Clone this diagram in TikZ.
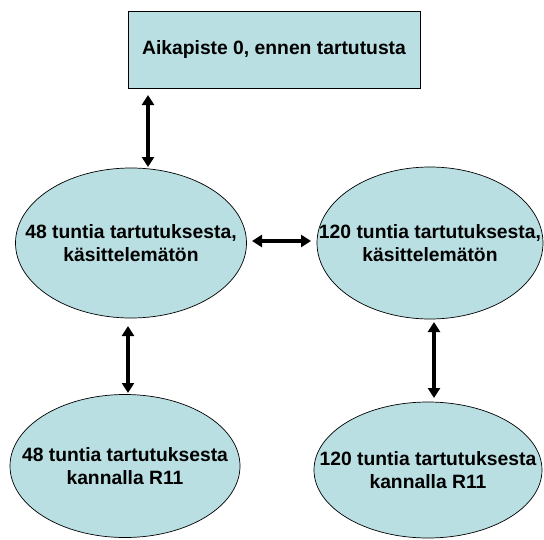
\documentclass[tikz,border=0pt]{standalone}
\usepackage{fontspec}
\setmainfont{Liberation Sans}
\usetikzlibrary{shapes.geometric,arrows.meta}
\definecolor{cellfill}{RGB}{185,223,226}
\tikzset{
  base/.style={draw=black, line width=0.7pt, fill=cellfill, font=\bfseries\fontsize{19.3}{23.5}\selectfont, align=center, inner sep=0pt},
  boxnode/.style={base, rectangle, minimum width=292pt, minimum height=77pt},
  ellnode/.style={base, ellipse, inner xsep=-60pt, inner ysep=-10pt},
  arr/.style={line width=3.5pt, {Triangle[length=10pt,width=12pt]}-{Triangle[length=10pt,width=12pt]}}
}
\begin{document}
\begin{tikzpicture}[x=1pt,y=-1pt]
\useasboundingbox (0,0) rectangle (544,539);
\node[boxnode] (top) at (274,49.5) {Aikapiste 0, ennen tartutusta};
\node[ellnode, minimum width=231pt, minimum height=150pt] (e1) at (131,243) {48 tuntia tartutuksesta,\\käsittelemätön};
\node[ellnode, minimum width=226pt, minimum height=152pt] (e2) at (430,243) {120 tuntia tartutuksesta,\\käsittelemätön};
\node[ellnode, minimum width=230pt, minimum height=143pt] (e3) at (125,466) {48 tuntia tartutuksesta\\kannalla R11};
\node[ellnode, minimum width=228pt, minimum height=136pt] (e4) at (428,470) {120 tuntia tartutuksesta\\kannalla R11};
\coordinate (a1s) at (148,95);
\coordinate (a1e) at (148,167);
\coordinate (a2s) at (252,241);
\coordinate (a2e) at (311,241);
\coordinate (a3s) at (128,326);
\coordinate (a3e) at (128,393);
\coordinate (a4s) at (434,322);
\coordinate (a4e) at (434,398);
\draw[arr] (a1s) -- (a1e);
\draw[arr] (a2s) -- (a2e);
\draw[arr] (a3s) -- (a3e);
\draw[arr] (a4s) -- (a4e);
\end{tikzpicture}
\end{document}
